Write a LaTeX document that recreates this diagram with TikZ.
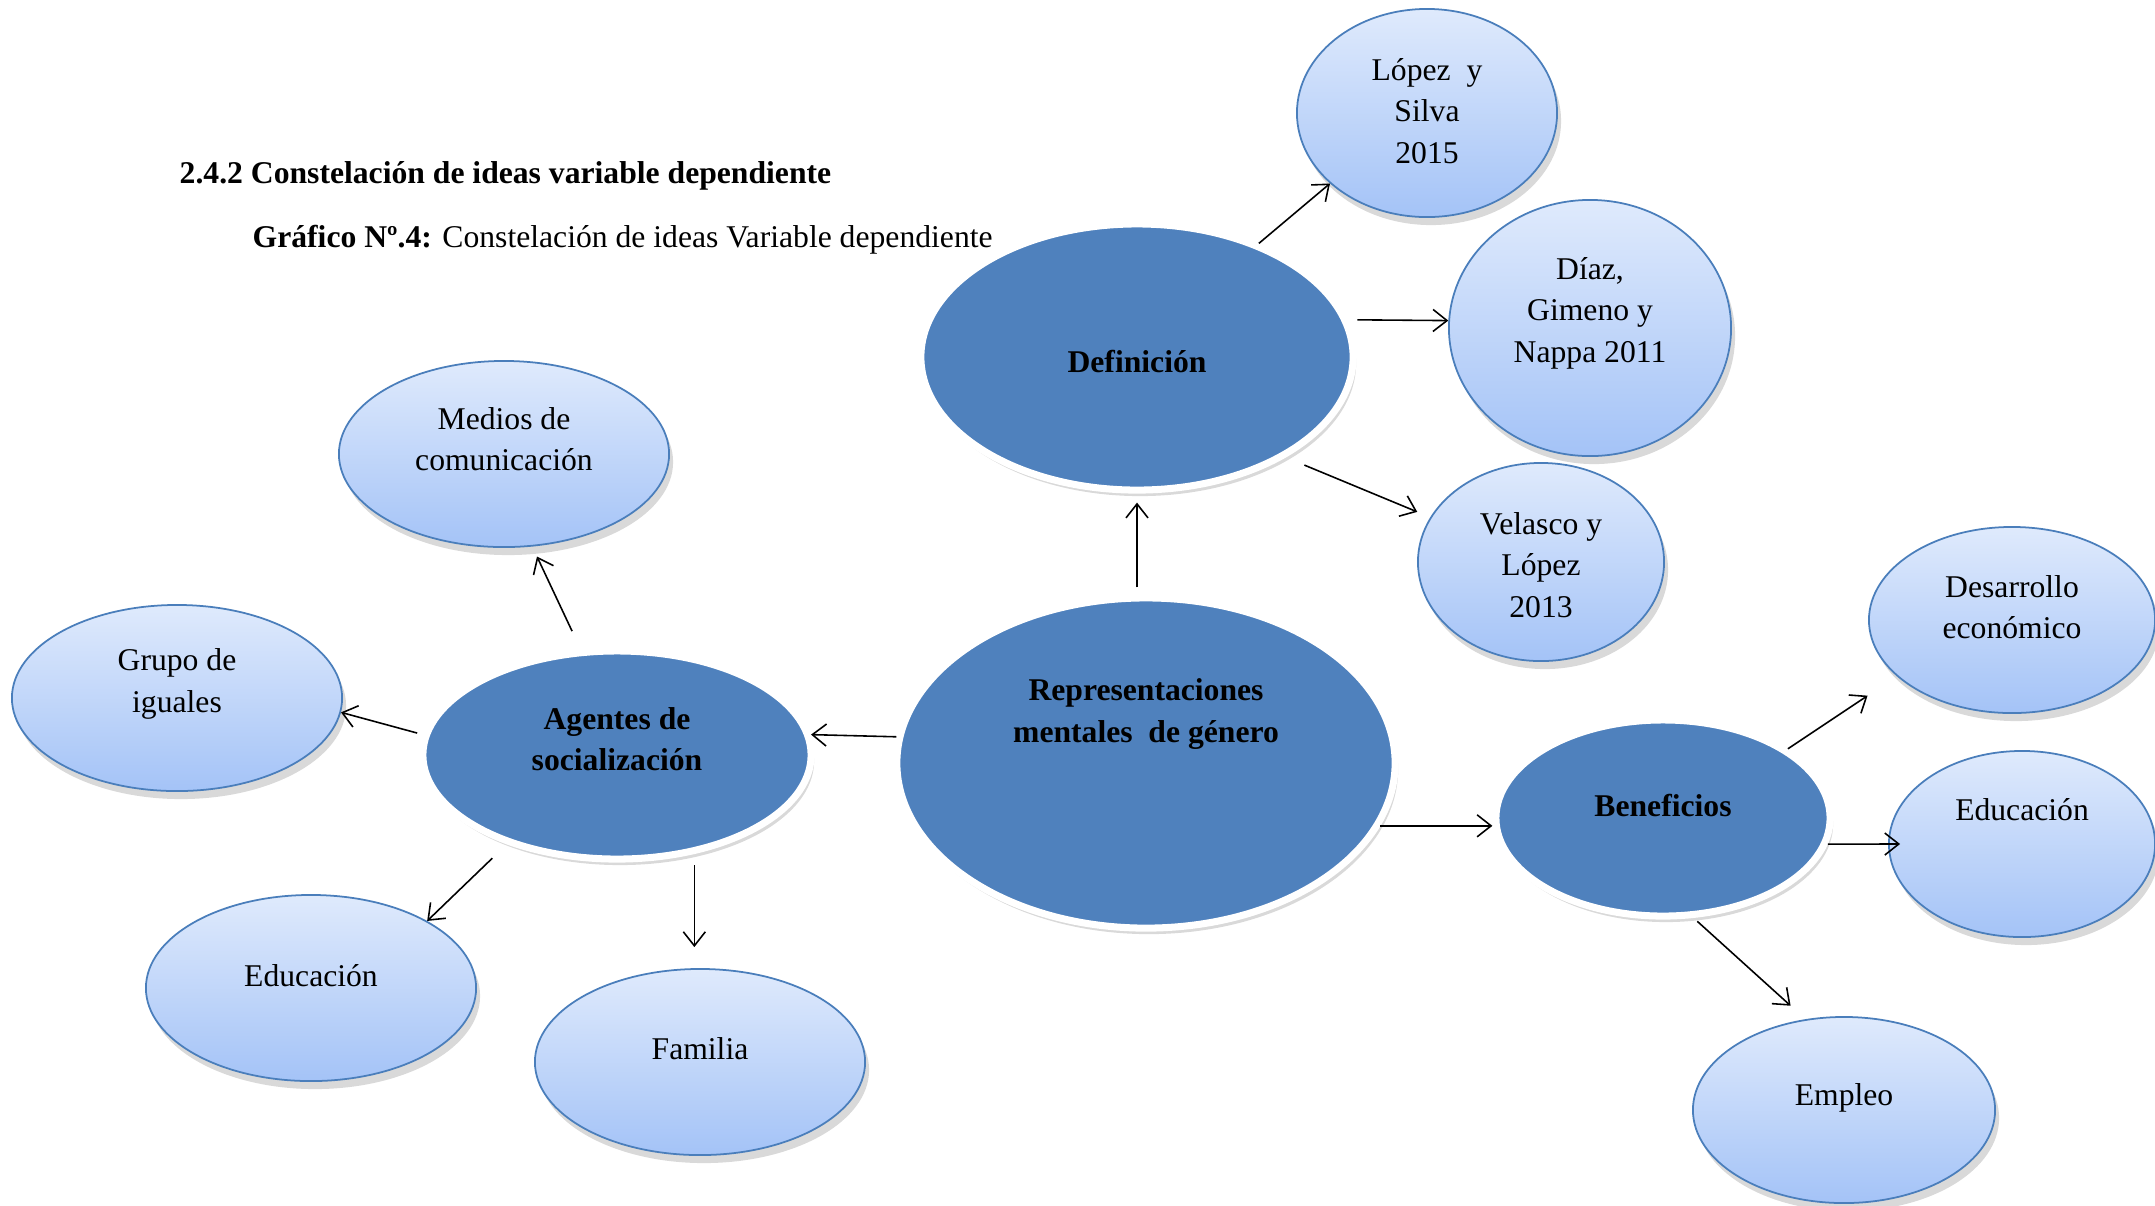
\documentclass[tikz,border=0pt]{standalone}
\usepackage{fontspec}
\setmainfont{Liberation Serif}
\usetikzlibrary{shapes.geometric,arrows.meta,shadows}

\definecolor{darkblue}{RGB}{79,129,189}
\definecolor{edgeblue}{RGB}{74,126,187}
\definecolor{lighttop}{RGB}{223,234,252}
\definecolor{lightbot}{RGB}{164,195,247}

\tikzset{
  dark/.style={ellipse, inner sep=0pt, fill=darkblue, draw=white, line width=2pt,
    drop shadow={shadow xshift=0.3mm, shadow yshift=-0.6mm, opacity=0.3}},
  light/.style={ellipse, inner sep=0pt, top color=lighttop, bottom color=lightbot,
    draw=edgeblue, line width=0.5pt,
    drop shadow={shadow xshift=0.4mm, shadow yshift=-0.8mm, opacity=0.3}},
  txt/.style={align=center, inner sep=0pt, font=\fontsize{9}{11.8}\selectfont},
  arr/.style={-{Straight Barb[length=1.4mm,width=2.2mm]}, line width=0.45pt},
}

\begin{document}
\begin{tikzpicture}[x=0.01cm, y=-0.01cm]
\useasboundingbox (0,0) rectangle (2155,1205);

% titulos
\node[txt, anchor=west] (titulo) at (179,176) {\textbf{2.4.2 Constelación de ideas variable dependiente}};
\node[txt, anchor=west] (grafico) at (252,240) {\textbf{Gráfico Nº.4:} Constelación de ideas Variable dependiente};

% elipses principales
\node[dark, minimum width=4.32cm, minimum height=2.66cm] (def) at (1137,357) {};
\node[dark, minimum width=4.98cm, minimum height=3.30cm] (rep) at (1146,763) {};
\node[dark, minimum width=3.88cm, minimum height=2.08cm] (agentes) at (617,755) {};
\node[dark, minimum width=3.34cm, minimum height=1.96cm] (ben) at (1663,818) {};

\node[txt] (deft) at (1137,361) {\textbf{Definición}};
\node[txt] (rept) at (1146,714) {\textbf{Representaciones}\\\textbf{mentales\ \ de género}};
\node[txt] (agentest) at (617,739) {\textbf{Agentes de}\\\textbf{socialización}};
\node[txt] (bent) at (1663,805) {\textbf{Beneficios}};

% elipses secundarias
\node[light, minimum width=2.60cm, minimum height=2.08cm] (lopez) at (1427,113) {};
\node[light, minimum width=2.82cm, minimum height=2.56cm] (diaz) at (1590,328) {};
\node[light, minimum width=2.46cm, minimum height=1.98cm] (velasco) at (1541,562) {};
\node[light, minimum width=3.30cm, minimum height=1.86cm] (medios) at (504,454) {};
\node[light, minimum width=3.30cm, minimum height=1.86cm] (grupo) at (177,698) {};
\node[light, minimum width=3.30cm, minimum height=1.86cm] (educl) at (311,988) {};
\node[light, minimum width=3.30cm, minimum height=1.86cm] (familia) at (700,1062) {};
\node[light, minimum width=2.86cm, minimum height=1.86cm] (desarrollo) at (2012,620) {};
\node[light, minimum width=2.66cm, minimum height=1.86cm] (educr) at (2022,844) {};
\node[light, minimum width=3.02cm, minimum height=1.86cm] (empleo) at (1844,1110) {};

\node[txt] (lopezt) at (1427,111) {López\ \ y\\Silva\\2015};
\node[txt] (diazt) at (1590,313) {Díaz,\\Gimeno y\\Nappa 2011};
\node[txt] (velascot) at (1541,565) {Velasco y\\López\\2013};
\node[txt] (mediost) at (504,439) {Medios de\\comunicación};
\node[txt] (grupot) at (177,684) {Grupo de\\iguales};
\node[txt] (educlt) at (311,976) {Educación};
\node[txt] (familiat) at (700,1049) {Familia};
\node[txt] (desarrollot) at (2012,607) {Desarrollo\\económico};
\node[txt] (educrt) at (2022,810) {Educación};
\node[txt] (empleot) at (1844,1098) {Empleo};

% flechas
\draw[arr, shorten <=0.7mm, shorten >=0.9mm] (def.south |- rep.north) -- (def.south);
\draw[arr] (def.43) -- (lopez.216);
\draw[arr, shorten <=0.9mm] (def.10) -- (diaz.177);
\draw[arr, shorten <=2mm, shorten >=1.4mm] (def.-34) -- (velasco.158);
\draw[arr] (rep.174) -- (agentes.6);
\draw[arr] (rep.-15) -- (rep.-15 -| ben.west);
\draw[arr, shorten <=2mm, shorten >=1.1mm] (agentes.109) -- (medios.-73);
\draw[arr, shorten <=0.6mm] (agentes.174) -- (grupo.-5);
\draw[arr, shorten <=2mm] (agentes.-141) -- (educl.30);
\draw[arr, shorten <=1.1mm, shorten >=2.1mm] (agentes.-52) -- (agentes.-52 |- familia.north);
\draw[arr, shorten >=3.5mm] (ben.29) -- (desarrollo.-154);
\draw[arr, shorten >=-1.2mm] (ben.-9) -- (educr.180);
\draw[arr, shorten <=0.5mm, shorten >=2mm] (ben.-73) -- (empleo.113);
\end{tikzpicture}
\end{document}
